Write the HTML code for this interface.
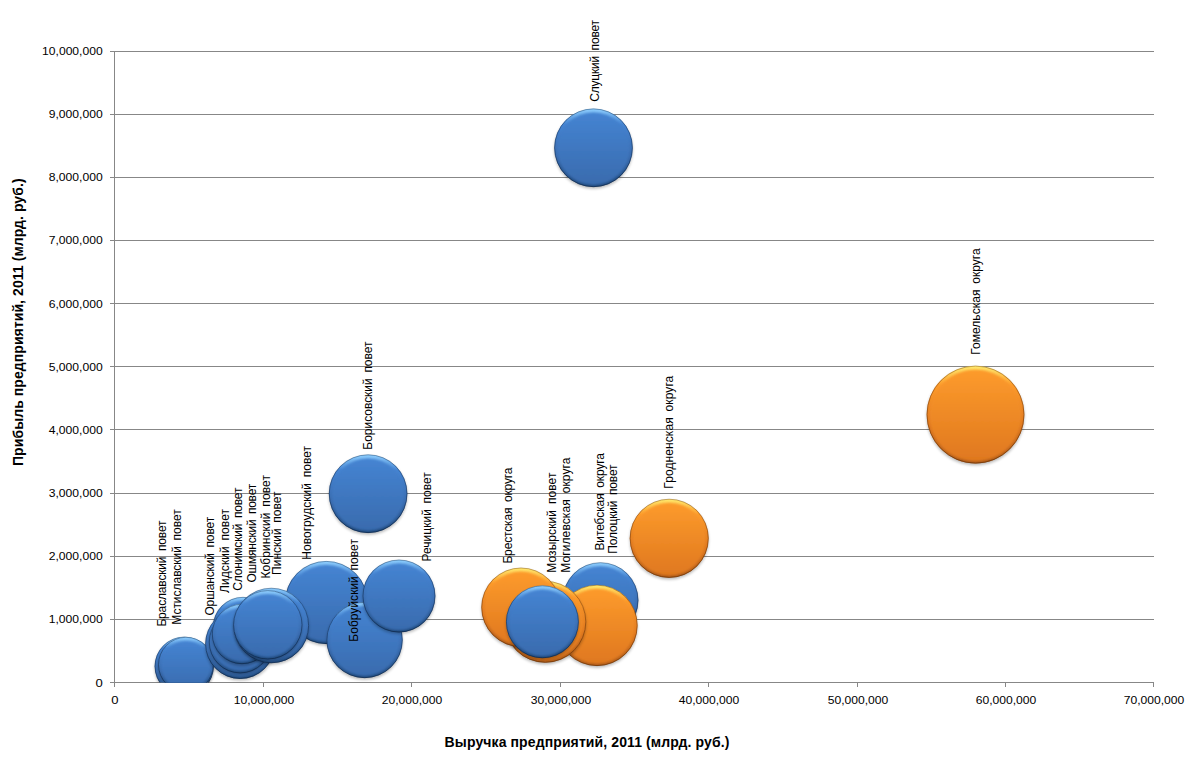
<!DOCTYPE html>
<html><head><meta charset="utf-8"><style>
html,body{margin:0;padding:0;background:#fff;}
body{width:1198px;height:757px;overflow:hidden;}
svg{display:block;}
text{font-family:"Liberation Sans", sans-serif;}
</style></head><body>
<svg width="1198" height="757" viewBox="0 0 1198 757">
<defs>
<clipPath id="plot"><rect x="114" y="0" width="1040" height="682.5"/></clipPath>
<filter id="sh" x="-20%" y="-20%" width="140%" height="140%"><feGaussianBlur stdDeviation="1.6"/></filter>
<filter id="bv" x="-10%" y="-10%" width="120%" height="120%"><feGaussianBlur stdDeviation="1.3"/></filter>

<linearGradient id="gb" x1="0" y1="0" x2="0" y2="1"><stop offset="0" stop-color="#4584d2"/><stop offset="1" stop-color="#396bae"/></linearGradient>
<linearGradient id="rb" x1="0" y1="0" x2="0" y2="1"><stop offset="0" stop-color="#90d0ff"/><stop offset="0.2" stop-color="#4584d2"/><stop offset="0.6" stop-color="#396bae"/><stop offset="1" stop-color="#1d4677"/></linearGradient>
<linearGradient id="ob" x1="0" y1="0" x2="0" y2="1"><stop offset="0" stop-color="#0f2a4e" stop-opacity="0.5"/><stop offset="0.5" stop-color="#0f2a4e" stop-opacity="0.7"/><stop offset="1" stop-color="#0f2a4e" stop-opacity="0.95"/></linearGradient>
<linearGradient id="go" x1="0" y1="0" x2="0" y2="1"><stop offset="0" stop-color="#fd9b2c"/><stop offset="1" stop-color="#df781f"/></linearGradient>
<linearGradient id="ro" x1="0" y1="0" x2="0" y2="1"><stop offset="0" stop-color="#ffec70"/><stop offset="0.2" stop-color="#fd9b2c"/><stop offset="0.6" stop-color="#df781f"/><stop offset="1" stop-color="#a9571a"/></linearGradient>
<linearGradient id="oo" x1="0" y1="0" x2="0" y2="1"><stop offset="0" stop-color="#6e3608" stop-opacity="0.5"/><stop offset="0.5" stop-color="#6e3608" stop-opacity="0.7"/><stop offset="1" stop-color="#6e3608" stop-opacity="0.95"/></linearGradient>
</defs>
<rect width="100%" height="100%" fill="#fff"/>
<path d="M110 682.5H1154 M110 619.5H1154 M110 556.5H1154 M110 493.5H1154 M110 429.5H1154 M110 366.5H1154 M110 303.5H1154 M110 240.5H1154 M110 177.5H1154 M110 114.5H1154 M110 51.5H1154" stroke="#878787" stroke-width="1" fill="none" shape-rendering="crispEdges"/>
<path d="M114.5 51V683" stroke="#878787" stroke-width="1" fill="none" shape-rendering="crispEdges"/>
<path d="M114.5 682V687 M263.5 682V687 M411.5 682V687 M560.5 682V687 M708.5 682V687 M857.5 682V687 M1005.5 682V687 M1153.5 682V687" stroke="#878787" stroke-width="1" fill="none" shape-rendering="crispEdges"/>
<g clip-path="url(#plot)">
<g><circle cx="975.5" cy="416.4" r="48.8" fill="#000" opacity="0.28" filter="url(#sh)"/><circle cx="975.5" cy="414.6" r="48.8" fill="url(#ro)"/><circle cx="975.5" cy="415.5" r="45.8" fill="url(#go)" filter="url(#bv)"/><circle cx="975.5" cy="414.6" r="48.5" fill="none" stroke="url(#oo)" stroke-width="0.8"/></g>
<g><circle cx="669.2" cy="540.1" r="39.4" fill="#000" opacity="0.28" filter="url(#sh)"/><circle cx="669.2" cy="538.3" r="39.4" fill="url(#ro)"/><circle cx="669.2" cy="539.2" r="36.4" fill="url(#go)" filter="url(#bv)"/><circle cx="669.2" cy="538.3" r="39.1" fill="none" stroke="url(#oo)" stroke-width="0.8"/></g>
<g><circle cx="593.5" cy="149.6" r="39.2" fill="#000" opacity="0.28" filter="url(#sh)"/><circle cx="593.5" cy="147.8" r="39.2" fill="url(#rb)"/><circle cx="593.5" cy="148.7" r="36.2" fill="url(#gb)" filter="url(#bv)"/><circle cx="593.5" cy="147.8" r="38.9" fill="none" stroke="url(#ob)" stroke-width="0.8"/></g>
<g><circle cx="368.1" cy="495.5" r="39.2" fill="#000" opacity="0.28" filter="url(#sh)"/><circle cx="368.1" cy="493.7" r="39.2" fill="url(#rb)"/><circle cx="368.1" cy="494.6" r="36.2" fill="url(#gb)" filter="url(#bv)"/><circle cx="368.1" cy="493.7" r="38.9" fill="none" stroke="url(#ob)" stroke-width="0.8"/></g>
<g><circle cx="326.3" cy="604.3" r="41.4" fill="#000" opacity="0.28" filter="url(#sh)"/><circle cx="326.3" cy="602.5" r="41.4" fill="url(#rb)"/><circle cx="326.3" cy="603.4" r="38.4" fill="url(#gb)" filter="url(#bv)"/><circle cx="326.3" cy="602.5" r="41.1" fill="none" stroke="url(#ob)" stroke-width="0.8"/></g>
<g><circle cx="364.6" cy="641.8" r="38.0" fill="#000" opacity="0.28" filter="url(#sh)"/><circle cx="364.6" cy="640.0" r="38.0" fill="url(#rb)"/><circle cx="364.6" cy="640.9" r="35.0" fill="url(#gb)" filter="url(#bv)"/><circle cx="364.6" cy="640.0" r="37.7" fill="none" stroke="url(#ob)" stroke-width="0.8"/></g>
<g><circle cx="399.0" cy="597.8" r="36.3" fill="#000" opacity="0.28" filter="url(#sh)"/><circle cx="399.0" cy="596.0" r="36.3" fill="url(#rb)"/><circle cx="399.0" cy="596.9" r="33.3" fill="url(#gb)" filter="url(#bv)"/><circle cx="399.0" cy="596.0" r="36.0" fill="none" stroke="url(#ob)" stroke-width="0.8"/></g>
<g><circle cx="184.2" cy="668.1" r="29.5" fill="#000" opacity="0.28" filter="url(#sh)"/><circle cx="184.2" cy="666.3" r="29.5" fill="url(#rb)"/><circle cx="184.2" cy="667.2" r="26.5" fill="url(#gb)" filter="url(#bv)"/><circle cx="184.2" cy="666.3" r="29.2" fill="none" stroke="url(#ob)" stroke-width="0.8"/></g>
<g><circle cx="185.9" cy="666.5" r="27.7" fill="#000" opacity="0.28" filter="url(#sh)"/><circle cx="185.9" cy="664.7" r="27.7" fill="url(#rb)"/><circle cx="185.9" cy="665.6" r="24.7" fill="url(#gb)" filter="url(#bv)"/><circle cx="185.9" cy="664.7" r="27.4" fill="none" stroke="url(#ob)" stroke-width="0.8"/></g>
<g><circle cx="243.0" cy="628.8" r="30.0" fill="#000" opacity="0.28" filter="url(#sh)"/><circle cx="243.0" cy="627.0" r="30.0" fill="url(#rb)"/><circle cx="243.0" cy="627.9" r="27.0" fill="url(#gb)" filter="url(#bv)"/><circle cx="243.0" cy="627.0" r="29.7" fill="none" stroke="url(#ob)" stroke-width="0.8"/></g>
<g><circle cx="240.2" cy="645.7" r="34.9" fill="#000" opacity="0.28" filter="url(#sh)"/><circle cx="240.2" cy="643.9" r="34.9" fill="url(#rb)"/><circle cx="240.2" cy="644.8" r="31.9" fill="url(#gb)" filter="url(#bv)"/><circle cx="240.2" cy="643.9" r="34.6" fill="none" stroke="url(#ob)" stroke-width="0.8"/></g>
<g><circle cx="240.2" cy="643.8" r="31.2" fill="#000" opacity="0.28" filter="url(#sh)"/><circle cx="240.2" cy="642.0" r="31.2" fill="url(#rb)"/><circle cx="240.2" cy="642.9" r="28.2" fill="url(#gb)" filter="url(#bv)"/><circle cx="240.2" cy="642.0" r="30.9" fill="none" stroke="url(#ob)" stroke-width="0.8"/></g>
<g><circle cx="242.0" cy="635.8" r="30.0" fill="#000" opacity="0.28" filter="url(#sh)"/><circle cx="242.0" cy="634.0" r="30.0" fill="url(#rb)"/><circle cx="242.0" cy="634.9" r="27.0" fill="url(#gb)" filter="url(#bv)"/><circle cx="242.0" cy="634.0" r="29.7" fill="none" stroke="url(#ob)" stroke-width="0.8"/></g>
<g><circle cx="271.3" cy="627.3" r="37.6" fill="#000" opacity="0.28" filter="url(#sh)"/><circle cx="271.3" cy="625.5" r="37.6" fill="url(#rb)"/><circle cx="271.3" cy="626.4" r="34.6" fill="url(#gb)" filter="url(#bv)"/><circle cx="271.3" cy="625.5" r="37.3" fill="none" stroke="url(#ob)" stroke-width="0.8"/></g>
<g><circle cx="267.8" cy="626.6" r="34.5" fill="#000" opacity="0.28" filter="url(#sh)"/><circle cx="267.8" cy="624.8" r="34.5" fill="url(#rb)"/><circle cx="267.8" cy="625.7" r="31.5" fill="url(#gb)" filter="url(#bv)"/><circle cx="267.8" cy="624.8" r="34.2" fill="none" stroke="url(#ob)" stroke-width="0.8"/></g>
<g><circle cx="600.5" cy="602.0" r="37.8" fill="#000" opacity="0.28" filter="url(#sh)"/><circle cx="600.5" cy="600.2" r="37.8" fill="url(#rb)"/><circle cx="600.5" cy="601.1" r="34.8" fill="url(#gb)" filter="url(#bv)"/><circle cx="600.5" cy="600.2" r="37.5" fill="none" stroke="url(#ob)" stroke-width="0.8"/></g>
<g><circle cx="597.0" cy="627.2" r="40.5" fill="#000" opacity="0.28" filter="url(#sh)"/><circle cx="597.0" cy="625.4" r="40.5" fill="url(#ro)"/><circle cx="597.0" cy="626.3" r="37.5" fill="url(#go)" filter="url(#bv)"/><circle cx="597.0" cy="625.4" r="40.2" fill="none" stroke="url(#oo)" stroke-width="0.8"/></g>
<g><circle cx="545.3" cy="623.6" r="40.8" fill="#000" opacity="0.28" filter="url(#sh)"/><circle cx="545.3" cy="621.8" r="40.8" fill="url(#ro)"/><circle cx="545.3" cy="622.7" r="37.8" fill="url(#go)" filter="url(#bv)"/><circle cx="545.3" cy="621.8" r="40.5" fill="none" stroke="url(#oo)" stroke-width="0.8"/></g>
<g><circle cx="521.0" cy="609.1" r="39.6" fill="#000" opacity="0.28" filter="url(#sh)"/><circle cx="521.0" cy="607.3" r="39.6" fill="url(#ro)"/><circle cx="521.0" cy="608.2" r="36.6" fill="url(#go)" filter="url(#bv)"/><circle cx="521.0" cy="607.3" r="39.3" fill="none" stroke="url(#oo)" stroke-width="0.8"/></g>
<g><circle cx="542.4" cy="623.6" r="36.3" fill="#000" opacity="0.28" filter="url(#sh)"/><circle cx="542.4" cy="621.8" r="36.3" fill="url(#rb)"/><circle cx="542.4" cy="622.7" r="33.3" fill="url(#gb)" filter="url(#bv)"/><circle cx="542.4" cy="621.8" r="36.0" fill="none" stroke="url(#ob)" stroke-width="0.8"/></g>
</g>
<text x="95.43" y="686.50" font-size="11" textLength="7.27" lengthAdjust="spacingAndGlyphs">0</text>
<text x="48.72" y="623.35" font-size="11" textLength="53.98" lengthAdjust="spacingAndGlyphs">1,000,000</text>
<text x="48.72" y="560.20" font-size="11" textLength="53.98" lengthAdjust="spacingAndGlyphs">2,000,000</text>
<text x="48.72" y="497.05" font-size="11" textLength="53.98" lengthAdjust="spacingAndGlyphs">3,000,000</text>
<text x="48.72" y="433.90" font-size="11" textLength="53.98" lengthAdjust="spacingAndGlyphs">4,000,000</text>
<text x="48.72" y="370.75" font-size="11" textLength="53.98" lengthAdjust="spacingAndGlyphs">5,000,000</text>
<text x="48.72" y="307.60" font-size="11" textLength="53.98" lengthAdjust="spacingAndGlyphs">6,000,000</text>
<text x="48.72" y="244.45" font-size="11" textLength="53.98" lengthAdjust="spacingAndGlyphs">7,000,000</text>
<text x="48.72" y="181.30" font-size="11" textLength="53.98" lengthAdjust="spacingAndGlyphs">8,000,000</text>
<text x="48.72" y="118.15" font-size="11" textLength="53.98" lengthAdjust="spacingAndGlyphs">9,000,000</text>
<text x="42.05" y="55.00" font-size="11" textLength="60.65" lengthAdjust="spacingAndGlyphs">10,000,000</text>
<text x="111.36" y="704.3" font-size="11" textLength="7.27" lengthAdjust="spacingAndGlyphs">0</text>
<text x="233.68" y="704.3" font-size="11" textLength="60.65" lengthAdjust="spacingAndGlyphs">10,000,000</text>
<text x="381.68" y="704.3" font-size="11" textLength="60.65" lengthAdjust="spacingAndGlyphs">20,000,000</text>
<text x="530.68" y="704.3" font-size="11" textLength="60.65" lengthAdjust="spacingAndGlyphs">30,000,000</text>
<text x="678.68" y="704.3" font-size="11" textLength="60.65" lengthAdjust="spacingAndGlyphs">40,000,000</text>
<text x="827.68" y="704.3" font-size="11" textLength="60.65" lengthAdjust="spacingAndGlyphs">50,000,000</text>
<text x="975.68" y="704.3" font-size="11" textLength="60.65" lengthAdjust="spacingAndGlyphs">60,000,000</text>
<text x="1123.68" y="704.3" font-size="11" textLength="60.65" lengthAdjust="spacingAndGlyphs">70,000,000</text>
<text transform="translate(166.1 626.6) rotate(-90)" font-size="12" word-spacing="2.4" textLength="106.1">Браславский повет</text>
<text transform="translate(181.0 624.7) rotate(-90)" font-size="12" word-spacing="2.4" textLength="115.4">Мстиславский повет</text>
<text transform="translate(214.3 615.6) rotate(-90)" font-size="12" word-spacing="2.4" textLength="98.8">Оршанский повет</text>
<text transform="translate(229.0 592.9) rotate(-90)" font-size="12" word-spacing="2.4" textLength="83.9">Лидский повет</text>
<text transform="translate(242.1 590.8) rotate(-90)" font-size="12" word-spacing="2.4" textLength="103.3">Слонимский повет</text>
<text transform="translate(256.0 582.6) rotate(-90)" font-size="12" word-spacing="2.4" textLength="98.8">Ошмянский повет</text>
<text transform="translate(270.0 578.6) rotate(-90)" font-size="12" word-spacing="2.4" textLength="103.5">Кобринский повет</text>
<text transform="translate(281.2 574.9) rotate(-90)" font-size="12" word-spacing="2.4" textLength="83.4">Пинский повет</text>
<text transform="translate(311.0 559.7) rotate(-90)" font-size="12" word-spacing="2.4" textLength="113.7">Новогрудский повет</text>
<text transform="translate(358.0 641.7) rotate(-90)" font-size="12" word-spacing="2.4" textLength="102.6">Бобруйский повет</text>
<text transform="translate(372.2 449.7) rotate(-90)" font-size="12" word-spacing="2.4" textLength="108.2">Борисовский повет</text>
<text transform="translate(430.5 561.4) rotate(-90)" font-size="12" word-spacing="2.4" textLength="89.2">Речицкий повет</text>
<text transform="translate(512.3 563.6) rotate(-90)" font-size="12" word-spacing="2.4" textLength="96.1">Брестская округа</text>
<text transform="translate(556.0 572.8) rotate(-90)" font-size="12" word-spacing="2.4" textLength="100.3">Мозырский повет</text>
<text transform="translate(569.5 572.8) rotate(-90)" font-size="12" word-spacing="2.4" textLength="115.3">Могилевская округа</text>
<text transform="translate(603.5 550.6) rotate(-90)" font-size="12" word-spacing="2.4" textLength="97.6">Витебская округа</text>
<text transform="translate(617.4 553.8) rotate(-90)" font-size="12" word-spacing="2.4" textLength="89.4">Полоцкий повет</text>
<text transform="translate(673.1 488.7) rotate(-90)" font-size="12" word-spacing="2.4" textLength="113.0">Гродненская округа</text>
<text transform="translate(599.2 101.7) rotate(-90)" font-size="12" word-spacing="2.4" textLength="81.7">Слуцкий повет</text>
<text transform="translate(980.1 354.7) rotate(-90)" font-size="12" word-spacing="2.4" textLength="106.3">Гомельская округа</text>
<text x="444.6" y="746.6" font-size="14" font-weight="bold" textLength="284.8">Выручка предприятий, 2011 (млрд. руб.)</text>
<text transform="translate(23.2 466.0) rotate(-90)" font-size="14" font-weight="bold" textLength="287.6">Прибыль предприятий, 2011 (млрд. руб.)</text>
</svg></body></html>
